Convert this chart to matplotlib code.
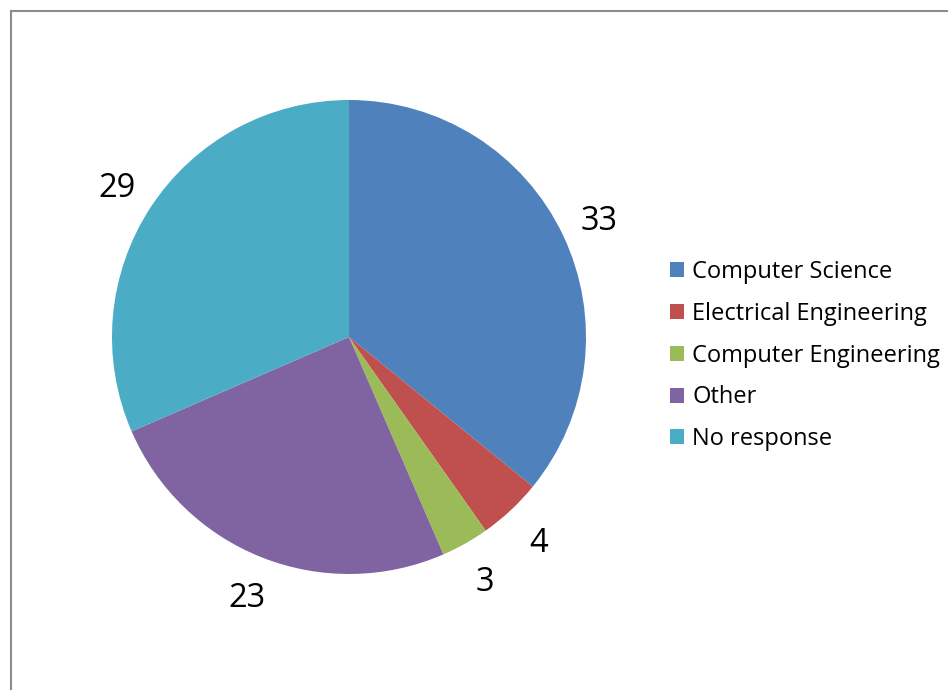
import matplotlib
matplotlib.use("Agg")
import matplotlib.pyplot as plt
from matplotlib.lines import Line2D

categories = ["Computer Science", "Electrical Engineering", "Computer Engineering", "Other", "No response"]
values = [33, 4, 3, 23, 29]
colors = ["#4F81BD", "#C0504D", "#9BBB59", "#8064A2", "#4BACC6"]

plt.rcParams['font.family'] = ['Open Sans', 'DejaVu Sans']

W, H = 948, 690
fig = plt.figure(figsize=(W / 100, H / 100), dpi=100)
fig.patch.set_facecolor("white")

# frame lines
fig.add_artist(Line2D([10.5 / W, 10.5 / W], [0, 1 - 10.5 / H], color="#8c8c8c", lw=1.5, transform=fig.transFigure))
fig.add_artist(Line2D([10.5 / W, 1], [1 - 10.5 / H, 1 - 10.5 / H], color="#8c8c8c", lw=1.5, transform=fig.transFigure))

cx, cy, r = 349, 337, 237
ax = fig.add_axes([(cx - r) / W, 1 - (cy + r) / H, 2 * r / W, 2 * r / H])
wedges, texts = ax.pie(values, colors=colors, startangle=90, counterclock=False,
                       labels=[str(v) for v in values], labeldistance=1.17,
                       textprops=dict(fontsize=23.5, color="black"),
                       wedgeprops=dict(linewidth=0))
for t in texts:
    t.set_horizontalalignment("center")
    t.set_verticalalignment("center_baseline")
ax.set_xlim(-1, 1)
ax.set_ylim(-1, 1)
ax.set_aspect("equal")

leg = fig.legend(wedges, categories, loc="upper left",
                 bbox_to_anchor=(649 / W, 1 - 239 / H), frameon=False,
                 fontsize=17, handlelength=0.6, handleheight=0.6,
                 handletextpad=0.34, labelspacing=0.75)

fig.savefig("out.png", dpi=100, facecolor="white")
